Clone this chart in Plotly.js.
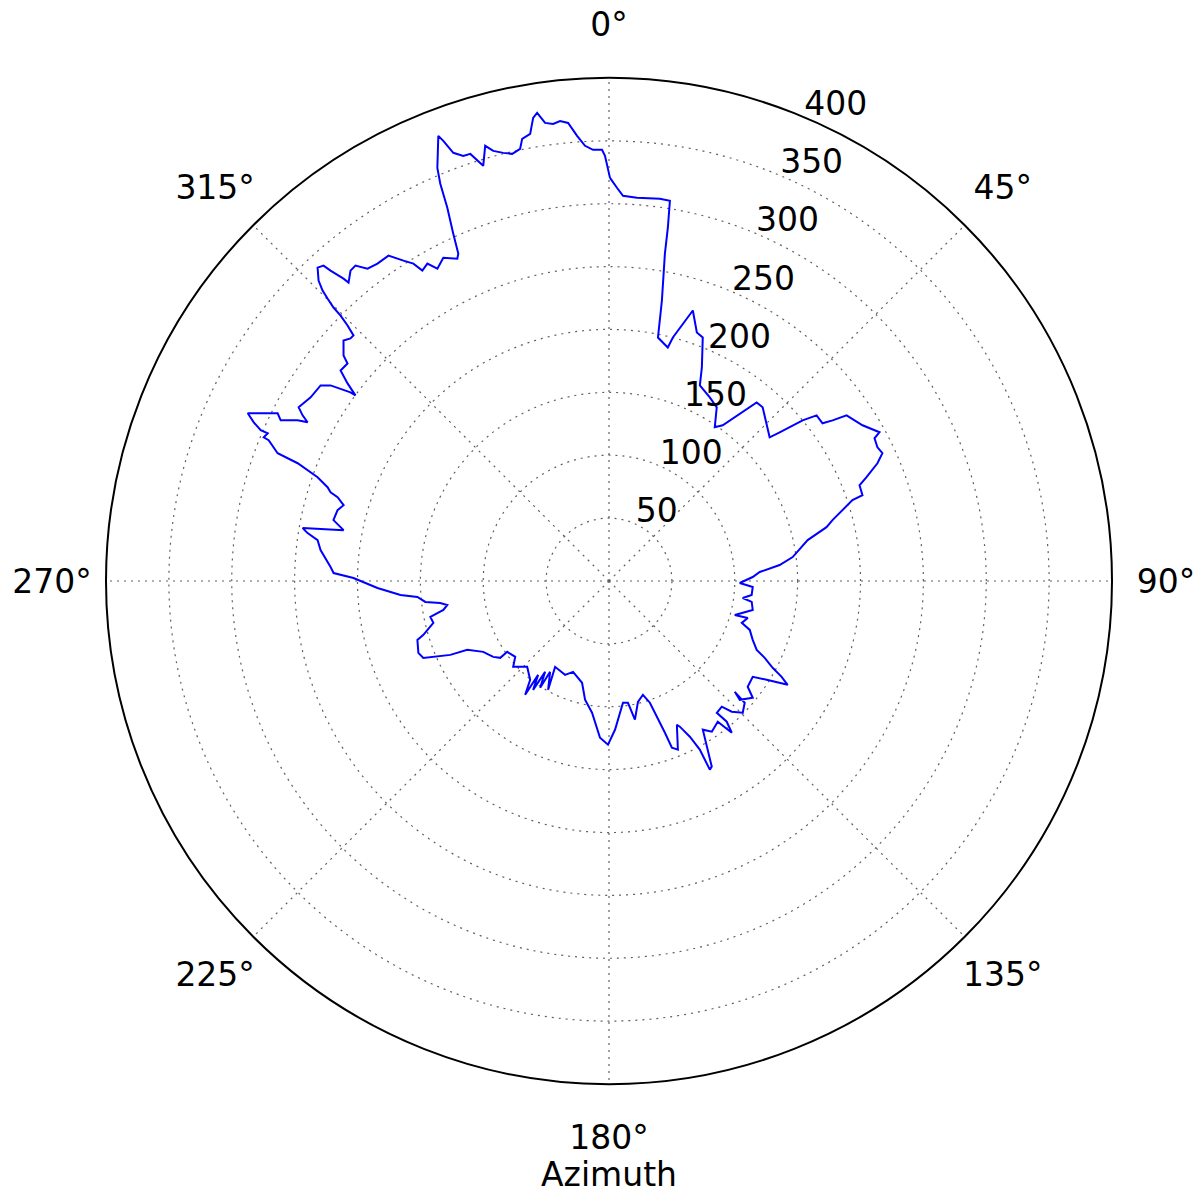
<!DOCTYPE html>
<html>
<head>
<meta charset="utf-8">
<script src="https://cdn.plot.ly/plotly-3.0.1.min.js"></script>
<style>html,body{margin:0;padding:0;background:#fff;}#chart{width:1203px;height:1196px;}</style>
</head>
<body>
<div id="chart"></div>
<script>
// Azimuth (degrees, clockwise from north) and radial value
const azimuth = [0.14,1.16,2.08,4.17,7.58,9.10,9.46,9.69,10.68,11.37,14.13,14.70,17.22,19.47,21.06,23.5,24.92,28.76,31.82,34.53,36.15,39.58,41.5,48.19,48.94,50.31,51.41,53.55,54.31,55.12,58.44,61.19,61.74,63.52,64.95,66.32,68.04,69.08,71.3,71.62,74.77,76.1,78.36,82.57,84.65,86.59,88.41,90.87,92.39,95.59,97.23,98.35,101.39,105.1,104.9,107.5,109.16,112.28,114.99,116.27,117.94,119.03,120.16,122.07,123.69,127.33,129.1,132.25,131.38,131.9,134.57,136.8,138.11,140.71,140.08,141.02,142.29,145.7,147.75,151.03,151.88,151.7,152.56,154.07,154.72,157.79,159.33,159.77,161.43,163.39,166.52,169.41,171.15,173.45,177.69,180.35,183.28,187.34,191.4,194.83,201.58,205.08,212.12,209.24,212.96,212.82,215.12,214.89,217.06,216.38,218.59,223.64,228.14,231.04,235.16,234.76,236.77,240.6,244.08,245.04,247.51,249.35,252.92,253.81,256.58,258.63,260.09,261.57,262.58,263.49,265.24,266.17,268.27,270.67,271.66,272.87,276.12,277.99,279.03,279.8,280.85,282.46,284.63,285.95,287.16,287.69,288.43,289.6,290.72,291.08,292.47,292.6,293.4,293.4,294.07,294.9,296.84,296.08,297.29,297.77,298.4,299.23,301.61,304.14,305.09,306.12,306.21,307.08,308.11,309.76,310.35,312.18,313.17,313.86,314.34,314.68,314.79,315.1,315.4,315.97,317.08,317.85,318.1,318.72,318.89,320.21,321.2,322.29,323.89,325.87,327.31,328.35,328.98,330.22,331.21,332.87,334.8,335.28,335.85,336.58,336.99,337.44,339.02,339.37,340.02,341.08,342.01,343.15,344.12,344.94,346.12,347.23,348.38,348.89,350.0,350.7,351.27,352.06,353.03,353.93,354.9,355.9,356.85,357.88,359.07,359.46,360.14];
const value = [320.6,312.8,306.5,305.6,306.7,306.2,284.8,264.1,227.0,197.5,191.5,200.2,225.2,209.6,207.5,185.2,171.5,166.6,162.5,148.4,153.3,184.3,184.4,171.4,180.0,200.1,211.2,211.1,218.9,230.3,236.6,245.5,239.7,238.5,240.0,233.1,220.8,213.3,212.8,204.0,184.2,178.2,161.3,147.3,136.3,120.1,114.3,104.0,114.4,114.0,107.2,114.7,116.6,103.6,114.2,110.7,118.5,123.5,129.6,138.1,147.3,157.0,164.3,148.0,137.4,138.7,147.3,140.5,133.3,145.0,149.3,142.6,134.3,135.4,145.9,155.2,141.4,145.1,139.8,168.7,170.1,152.3,139.5,128.8,126.4,144.9,141.7,128.6,102.1,94.4,98.8,112.2,98.0,97.5,118.4,130.2,124.8,105.6,96.3,83.7,77.7,82.4,80.6,99.1,86.1,101.0,88.3,105.5,93.5,112.4,100.5,94.3,102.3,95.9,98.6,105.9,110.1,114.8,125.3,139.2,159.8,162.0,159.4,153.7,143.6,144.9,133.7,130.0,135.3,147.0,152.9,166.2,184.2,203.2,219.1,221.7,230.7,234.0,242.7,247.2,214.9,224.4,223.1,219.5,225.9,232.4,235.9,246.0,264.7,282.4,292.9,297.4,295.7,301.8,309.4,316.7,295.3,290.7,278.6,270.9,277.0,282.8,278.6,277.1,270.6,254.5,249.9,260.6,271.3,270.5,277.0,284.9,281.9,281.8,290.7,300.2,308.7,317.1,324.4,332.3,340.3,338.3,331.6,320.0,315.0,321.2,321.8,314.0,312.4,312.6,302.7,296.5,288.0,290.8,283.4,288.9,283.3,286.6,302.7,323.5,343.2,355.8,379.1,374.0,362.3,357.4,357.1,345.0,359.8,354.2,350.7,348.3,350.9,358.3,361.0,373.2,376.6,367.8,366.2,367.9,365.7,354.9,346.6,343.1,342.9,338.1,320.6];

const radialTicks = [50, 100, 150, 200, 250, 300, 350, 400];
const angularTicks = [0, 45, 90, 135, 180, 225, 270, 315];
const angularLabels = ['0°', '45°', '90°', '135°', '180°', '225°', '270°', '315°'];

const FONT = 'DejaVu Sans, sans-serif';
const W = 1203, H = 1196;
const cx = 609, cy = 581, R = 503;
const LABEL_DIST = 557; // distance of angular label centres from the pole, in px

const trace = {
  type: 'scatterpolar',
  mode: 'lines',
  theta: azimuth,
  r: value,
  line: {color: '#0000ff', width: 2},
  hoverinfo: 'skip'
};

const layout = {
  width: W, height: H,
  margin: {l: 0, r: 0, t: 0, b: 0},
  paper_bgcolor: '#ffffff',
  plot_bgcolor: '#ffffff',
  showlegend: false,
  font: {family: FONT, size: 33, color: '#000'},
  polar: {
    domain: {x: [(cx - R) / W, (cx + R) / W], y: [1 - (cy + R) / H, 1 - (cy - R) / H]},
    bgcolor: '#ffffff',
    angularaxis: {
      rotation: 90,
      direction: 'clockwise',
      tickmode: 'array',
      tickvals: angularTicks,
      ticktext: angularLabels,
      ticks: 'outside',
      ticklen: 26,
      tickcolor: 'rgba(0,0,0,0)',
      tickfont: {family: FONT, size: 33, color: '#000'},
      showline: true,
      linecolor: '#000',
      linewidth: 2,
      showgrid: true,
      gridcolor: '#606060',
      griddash: '2px,5px',
      gridwidth: 1.2
    },
    radialaxis: {
      range: [0, 400],
      tickmode: 'array',
      tickvals: radialTicks,
      angle: 67.5,
      tickangle: 67.5,
      side: 'clockwise',
      showline: false,
      ticks: '',
      tickfont: {family: FONT, size: 33, color: '#000'},
      showgrid: true,
      gridcolor: '#606060',
      griddash: '2px,5px',
      gridwidth: 1.2
    }
  },
  annotations: [{
    text: 'Azimuth', showarrow: false,
    xref: 'paper', yref: 'paper',
    x: cx / W, y: 0,
    xanchor: 'center', yanchor: 'bottom',
    font: {family: FONT, size: 33, color: '#000'}
  }]
};

Plotly.newPlot('chart', [trace], layout, {displayModeBar: false, staticPlot: true}).then(function (gd) {
  // nudge radial tick labels closer to the axis, as in the reference
  const g = document.querySelector('#chart .polar .radial-axis');
  if (g) {
    const t = g.getAttribute('transform') || '';
    g.setAttribute('transform', 'translate(-13,-24) ' + t);
  }
  // centre each angular label on its tick direction at a fixed distance from the pole (matplotlib style)
  const host = document.getElementById('chart').getBoundingClientRect();
  document.querySelectorAll('#chart .polar .angular-axis text').forEach(function (txt) {
    const b = txt.getBoundingClientRect();
    if (!b.width) return;
    const ang = parseFloat(txt.textContent);
    if (isNaN(ang)) return;
    const a = ang * Math.PI / 180;
    const bx = b.left - host.left + b.width / 2;
    const by = b.top - host.top + b.height / 2;
    const tx = cx + Math.sin(a) * LABEL_DIST, ty = cy - Math.cos(a) * LABEL_DIST;
    const t = txt.getAttribute('transform') || '';
    txt.setAttribute('transform', 'translate(' + (tx - bx).toFixed(1) + ',' + (ty - by).toFixed(1) + ') ' + t);
  });
});
</script>
</body>
</html>
